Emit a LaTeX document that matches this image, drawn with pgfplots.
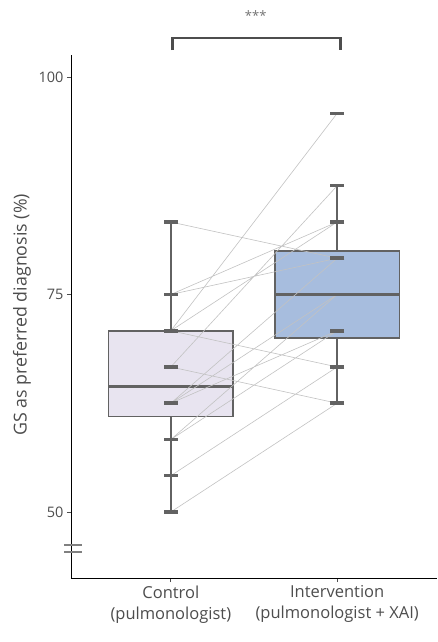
\documentclass[border=0pt]{standalone}
\usepackage{fontspec}
\setmainfont{Open Sans}
\usepackage{pgfplots}
\pgfplotsset{compat=1.18}
\definecolor{ctrlfill}{HTML}{E8E4F0}
\definecolor{intfill}{HTML}{A7BDDE}
\definecolor{boxline}{HTML}{626262}
\definecolor{pairline}{HTML}{C2C2C2}
\definecolor{txtgray}{HTML}{4D4D4D}
\begin{document}
\begin{tikzpicture}
\begin{axis}[
  scale only axis, width=366pt, height=523pt,
  xmin=0.4, xmax=2.6, ymin=42.41, ymax=102.53,
  axis x line*=bottom, axis y line*=left,
  axis line style={black, line width=0.8pt, -},
  xtick={1,2},
  xticklabels={{Control\\(pulmonologist)},{Intervention\\(pulmonologist + XAI)}},
  xticklabel style={align=center, font=\fontsize{16.5}{21}\selectfont, text=txtgray},
  ytick={50,75,100},
  yticklabel style={font=\fontsize{14.5}{16}\selectfont, text=txtgray},
  /pgf/number format/assume math mode=true,
  tick style={txtgray, line width=0.8pt},
  major tick length=4pt,
  tick align=outside,
  ylabel={GS as preferred diagnosis (\%)},
  ylabel style={font=\fontsize{17.8}{21}\selectfont, text=txtgray, at={(axis description cs:-0.134,0.503)}, anchor=center, rotate=0},
  clip=false,
]
% whiskers
\addplot[boxline, line width=1.6pt, unbounded coords=jump, forget plot] coordinates {
 (1,70.83) (1,83.33) (1,nan) (1,61.0) (1,50) (1,nan)
 (2,80.0) (2,87.5) (2,nan) (2,70.0) (2,62.5)
};
% boxes
\addplot[draw=boxline, fill=ctrlfill, line width=1.5pt, forget plot] coordinates {
 (0.625,61.0) (1.375,61.0) (1.375,70.83) (0.625,70.83)} -- cycle;
\addplot[draw=boxline, fill=intfill, line width=1.5pt, forget plot] coordinates {
 (1.625,70.0) (2.375,70.0) (2.375,80.0) (1.625,80.0)} -- cycle;
% medians
\addplot[boxline, line width=3.5pt, unbounded coords=jump, forget plot] coordinates {
 (0.625,64.45) (1.375,64.45) (1.5,nan) (1.625,75) (2.375,75)
};
% paired lines
\addplot[pairline, line width=0.6pt, unbounded coords=jump, forget plot] coordinates {
 (1,83.33) (2,79.17) (1.5,nan)
 (1,75) (2,83.33) (1.5,nan)
 (1,75) (2,79.17) (1.5,nan)
 (1,70.83) (2,95.83) (1.5,nan)
 (1,70.83) (2,66.67) (1.5,nan)
 (1,70.83) (2,83.33) (1.5,nan)
 (1,66.67) (2,87.5) (1.5,nan)
 (1,66.67) (2,62.5) (1.5,nan)
 (1,62.5) (2,79.17) (1.5,nan)
 (1,62.5) (2,75) (1.5,nan)
 (1,62.5) (2,70.83) (1.5,nan)
 (1,62.5) (2,75) (1.5,nan)
 (1,58.33) (2,75) (1.5,nan)
 (1,58.33) (2,70.83) (1.5,nan)
 (1,54.17) (2,66.67) (1.5,nan)
 (1,50) (2,62.5)
};
% points
\addplot[only marks, mark=-, mark size=7pt, mark options={line width=3.5pt, color=boxline}] coordinates {
 (1,83.33) (1,75) (1,75) (1,70.83) (1,70.83) (1,70.83) (1,66.67) (1,66.67)
 (1,62.5) (1,62.5) (1,62.5) (1,62.5) (1,58.33) (1,58.33) (1,54.17) (1,50)
};
\addplot[only marks, mark=-, mark size=7pt, mark options={line width=3.5pt, color=boxline}] coordinates {
 (2,79.17) (2,83.33) (2,79.17) (2,95.83) (2,66.67) (2,83.33) (2,87.5) (2,62.5)
 (2,79.17) (2,75) (2,70.83) (2,75) (2,75) (2,70.83) (2,66.67) (2,62.5)
};
% significance bracket
\draw[txtgray, line width=2.8pt] (axis cs:1.01,103.1) |- (axis cs:2.02,104.48) -- (axis cs:2.02,103.1);
\node[font=\fontsize{13}{14}\selectfont, text=black!55] at (axis cs:1.51,107.1) {***};
% axis break
\draw[gray, line width=2pt] (axis cs:0.358,46.2) -- (axis cs:0.466,46.2);
\draw[gray, line width=2pt] (axis cs:0.358,45.45) -- (axis cs:0.466,45.45);
\end{axis}
\pgfresetboundingbox
\useasboundingbox ([xshift=-71pt,yshift=-64pt]current axis.south west) rectangle ++(437pt,642pt);
\end{tikzpicture}
\end{document}
